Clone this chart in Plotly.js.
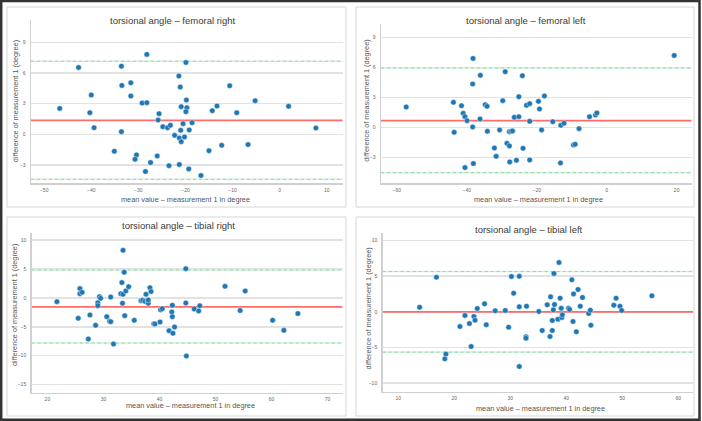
<!DOCTYPE html>
<html><head><meta charset="utf-8">
<script src="https://cdn.plot.ly/plotly-3.0.1.min.js"></script>
<style>html,body{margin:0;padding:0;background:#fff;overflow:hidden}#chart{width:702px;height:421px}</style>
</head><body><div id="chart"></div>
<script>
// ---- data ----
const panelTitles = ["torsional angle – femoral right", "torsional angle – femoral left",
                     "torsional angle – tibial right", "torsional angle – tibial left"];
const xAxisTitle = "mean value – measurement 1 in degree";
const yAxisTitle = "difference of measurement 1 (degree)";

const femRightMean = [-46.7,-42.7,-40.0,-40.3,-39.4,-35.1,-33.6,-33.5,-33.6,-31.6,-31.6,-30.4,-30.7,-29.2,-28.2,-28.2,-28.5,-27.4,-26.0,-25.6,-25.8,-24.8,-23.8,-23.2,-23.5,-22.3,-21.4,-21.3,-21.3,-21.1,-21.0,-20.9,-20.9,-20.5,-20.2,-19.9,-19.8,-19.7,-19.9,-19.2,-19.3,-18.6,-16.7,-15.0,-14.3,-13.3,-12.3,-10.6,-9.1,-6.7,-5.2,1.9,7.7];
const femRightDiff = [2.54,6.55,3.85,2.12,0.65,-1.66,6.68,4.79,0.26,5.05,3.75,-2.02,-2.45,3.06,3.10,7.83,-3.65,-2.77,-2.12,2.02,1.40,0.75,0.65,0.88,-3.07,-0.10,5.71,-0.36,-2.97,4.63,0.39,2.71,-0.72,1.04,-0.26,7.04,3.36,2.61,2.22,0.42,-3.39,1.14,-4.04,-1.60,2.32,2.77,-1.08,4.76,2.12,-1.01,3.29,2.74,0.62];
const femRightBias = 1.37, femRightUpper = 7.16, femRightLower = -4.41;

const femLeftMean = [-57.3,-43.8,-43.6,-41.5,-41.0,-40.5,-39.9,-40.5,-38.2,-38.3,-38.3,-38.1,-36.2,-36.1,-34.7,-34.2,-34.1,-32.1,-31.6,-30.6,-29.7,-29.0,-28.5,-27.8,-27.8,-27.7,-27.3,-26.9,-26.4,-25.8,-25.1,-25.1,-24.1,-23.9,-22.9,-22.0,-22.0,-22.0,-19.5,-19.2,-18.6,-17.8,-15.4,-13.1,-12.2,-13.2,-9.5,-9.0,-7.9,-4.9,-3.2,-2.8,19.3];
const femLeftDiff = [2.07,2.53,-0.47,2.20,1.43,1.10,0.70,-4.00,6.93,4.37,0.07,-3.60,0.87,5.23,2.30,2.13,-0.37,-2.03,-2.87,-0.23,2.70,5.60,-1.57,-1.83,-0.40,-3.43,-0.37,-0.33,1.03,-3.27,3.10,1.10,5.20,-2.07,2.23,2.40,0.63,-3.23,2.63,1.87,-0.23,3.17,0.60,0.23,0.43,-3.53,-1.73,-1.67,-0.10,1.10,1.27,1.47,7.23];
const femLeftBias = 0.70, femLeftUpper = 5.97, femLeftLower = -4.50;

const tibRightMean = [21.7,25.5,25.8,25.8,26.2,27.3,27.6,28.6,29.0,29.0,29.3,29.5,30.6,31.1,31.3,31.3,31.8,33.1,33.3,33.4,33.5,33.5,33.7,33.8,34.0,34.5,35.5,36.7,37.0,37.4,37.6,37.9,38.0,38.0,38.3,38.5,39.0,39.2,40.1,40.2,40.5,41.7,42.2,42.3,42.3,42.4,42.7,44.7,44.7,44.8,46.2,47.0,47.2,51.7,54.4,55.3,60.2,62.2,64.7];
const tibRightDiff = [-0.64,-3.52,1.62,0.75,0.98,-7.10,-2.94,-4.73,-0.81,-1.33,0.23,-0.06,-3.23,-4.04,0.17,-4.10,-7.97,0.75,2.66,-0.92,8.26,0.64,4.45,-3.06,1.21,1.96,-3.87,-0.46,-0.40,-0.58,0.64,-0.58,-0.92,-0.35,1.79,1.10,-4.45,-4.50,-4.16,-2.02,-1.85,-5.66,-2.42,-3.23,-1.27,-6.12,-5.02,5.08,-0.87,-10.05,-1.91,-2.25,-1.33,2.02,-2.19,1.21,-3.87,-5.60,-2.71];
const tibRightBias = -1.55, tibRightUpper = 4.85, tibRightLower = -7.80;

const tibLeftMean = [13.8,16.8,18.3,18.5,21.0,21.9,22.7,23.0,23.5,23.7,24.1,25.4,25.7,27.3,29.1,29.7,30.2,30.6,31.6,31.6,31.6,32.8,32.8,32.9,35.1,35.7,36.6,37.1,37.2,37.5,37.5,37.7,37.8,37.9,38.5,38.7,38.9,39.1,39.2,39.3,40.4,40.6,41.0,41.3,41.2,41.8,42.1,42.5,42.9,44.0,44.3,44.4,48.5,48.9,49.6,49.9,55.3];
const tibLeftDiff = [0.65,4.86,-6.59,-5.93,-2.06,-0.51,-1.64,-4.86,-0.65,-1.17,0.47,1.12,-1.82,0.14,0.19,-2.15,4.95,2.62,0.70,5.00,-7.66,-3.50,-3.69,0.79,0.05,-2.62,0.98,-3.46,2.10,-1.21,-2.62,0.28,5.37,1.03,-1.03,6.92,1.92,0.51,-0.79,-0.42,0.51,0.33,4.49,2.52,-1.36,-2.80,3.13,0.79,2.01,-0.23,0.23,-1.87,0.93,1.92,0.79,0.19,2.24];
const tibLeftBias = 0.0, tibLeftUpper = 5.65, tibLeftLower = -5.65;

const femXTicks = [[-50,-40,-30,-20,-10,0,10],[-60,-40,-20,0,20]];
const femYTicks = [-3,0,3,6,9];
const tibXTicks = [[20,30,40,50,60,70],[10,20,30,40,50,60]];
const tibYTicks = [[-15,-10,-5,0,5,10],[-10,-5,0,5,10]];

// ---- layout helpers ----
const W = 702, H = 421;
const px = v => v / W, py = v => 1 - v / H;

const panels = [
  {x: femRightMean, y: femRightDiff, bias: femRightBias, up: femRightUpper, lo: femRightLower,
   xt: femXTicks[0], yt: femYTicks, xr: [-52.8, 13.4], yr: [-4.8, 11.2],
   dom: [31, 342.7, 20, 183.3], title: [173, 20], xtitle: [185.3, 199.5], ytitle: [15, 101.3],
   box: [7, 346, 7, 207]},
  {x: femLeftMean, y: femLeftDiff, bias: femLeftBias, up: femLeftUpper, lo: femLeftLower,
   xt: femXTicks[1], yt: femYTicks, xr: [-64.5, 24.3], yr: [-5.57, 10.37],
   dom: [381, 691.7, 24, 183.3], title: [526.3, 20.7], xtitle: [538.3, 199.2], ytitle: [365.7, 101],
   box: [356, 694, 7, 207]},
  {x: tibRightMean, y: tibRightDiff, bias: tibRightBias, up: tibRightUpper, lo: tibRightLower,
   xt: tibXTicks[0], yt: tibYTicks[0], xr: [17.2, 72.7], yr: [-16.4, 11.3],
   dom: [31.7, 342.7, 232.7, 392.7], title: [178.7, 225.7], xtitle: [190.8, 405], ytitle: [14, 305],
   box: [7, 346, 217, 416]},
  {x: tibLeftMean, y: tibLeftDiff, bias: tibLeftBias, up: tibLeftUpper, lo: tibLeftLower,
   xt: tibXTicks[1], yt: tibYTicks[1], xr: [7.2, 62.7], yr: [-11.2, 11.1],
   dom: [382.7, 693.3, 232.7, 391.7], title: [529, 229.3], xtitle: [540.8, 408.8], ytitle: [368.3, 308.3],
   box: [356, 694, 217, 416]}
];

const FONT = "Liberation Sans, Arial, sans-serif";
const traces = [], shapes = [], annotations = [];
const layout = {
  width: W, height: H, margin: {l: 0, r: 0, t: 0, b: 0},
  paper_bgcolor: '#fff', plot_bgcolor: '#fff', showlegend: false,
  font: {family: FONT, color: '#555'}
};

panels.forEach((p, i) => {
  const s = i === 0 ? '' : String(i + 1);
  const xa = 'x' + s, ya = 'y' + s;
  // bias and limits of agreement as line traces spanning the x axis range
  const refLines = [
    [p.up, '#d3f2dc', 'solid', 1.6], [p.up, '#8cdca4', 'dot', 1.0],
    [p.lo, '#d3f2dc', 'solid', 1.6], [p.lo, '#8cdca4', 'dot', 1.0],
    [p.bias, '#ff6b6b', 'solid', 1.8]
  ];
  refLines.forEach(l => {
    traces.push({type: 'scatter', mode: 'lines', x: [p.xr[0], p.xr[1]], y: [l[0], l[0]],
      xaxis: xa, yaxis: ya, line: {color: l[1], dash: l[2], width: l[3]}, hoverinfo: 'skip'});
  });
  traces.push({
    type: 'scatter', mode: 'markers', x: p.x, y: p.y, xaxis: xa, yaxis: ya,
    marker: {color: '#1f77b4', size: 5.5, line: {color: '#ffffff', width: 0.4}},
    hoverinfo: 'x+y'
  });
  layout['xaxis' + s] = {
    domain: [px(p.dom[0]), px(p.dom[1])], range: p.xr, anchor: ya,
    tickmode: 'array', tickvals: p.xt, ticks: '', showgrid: false, zeroline: false,
    showline: true, linecolor: '#d0d0d0', linewidth: 1.5,
    tickfont: {size: 5, color: '#666', family: FONT}, ticklabelstandoff: 1
  };
  layout['yaxis' + s] = {
    domain: [py(p.dom[3]), py(p.dom[2])], range: p.yr, anchor: xa,
    tickmode: 'array', tickvals: p.yt, ticks: '', showgrid: true, gridcolor: '#e2e2e2', gridwidth: 1.5,
    zeroline: false, showline: true, linecolor: '#d0d0d0', linewidth: 1.5,
    tickfont: {size: 5, color: '#666', family: FONT}, ticklabelstandoff: 3
  };
  // panel frame
  shapes.push({type: 'rect', xref: 'paper', yref: 'paper',
    x0: px(p.box[0]), x1: px(p.box[1]), y0: py(p.box[3]), y1: py(p.box[2]),
    line: {color: '#d6d6d6', width: 1}, layer: 'below'});
  annotations.push({text: panelTitles[i], xref: 'paper', yref: 'paper', x: px(p.title[0]), y: py(p.title[1]),
    xanchor: 'center', yanchor: 'middle', showarrow: false, font: {size: 9.5, color: '#3a3a3a', family: FONT}});
  annotations.push({text: xAxisTitle, xref: 'paper', yref: 'paper', x: px(p.xtitle[0]), y: py(p.xtitle[1]),
    xanchor: 'center', yanchor: 'middle', showarrow: false, font: {size: 7.3, color: '#555', family: FONT}});
  annotations.push({text: yAxisTitle, xref: 'paper', yref: 'paper', x: px(p.ytitle[0]), y: py(p.ytitle[1]),
    xanchor: 'center', yanchor: 'middle', textangle: -90, showarrow: false, font: {size: 7.3, color: '#555', family: FONT}});
});

// outer dark frame
shapes.push({type: 'rect', xref: 'paper', yref: 'paper', x0: px(1.2), x1: px(699.5), y0: py(419.8), y1: py(1),
  line: {color: '#333333', width: 2.5}, layer: 'above'});

layout.shapes = shapes;
layout.annotations = annotations;
Plotly.newPlot('chart', traces, layout, {displayModeBar: false, staticPlot: true});
</script></body></html>
